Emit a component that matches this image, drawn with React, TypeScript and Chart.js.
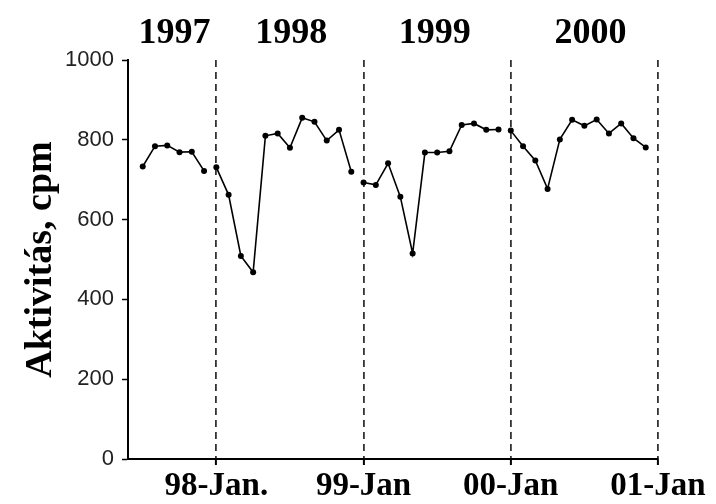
import React, { useEffect, useRef } from "react";
import { Chart, registerables } from "chart.js";

Chart.register(...registerables);

// Monthly activity values (cpm); x = months since Jan 1998
const seg1997Start = -6; // Jul 1997
const seg1997 = [733, 784, 786, 769, 770, 722];
const seg1998Start = 0;
const seg1998 = [731, 662, 509, 468, 810, 816, 780, 855, 845, 798, 825, 720];
const seg1999Start = 12;
const seg1999 = [693, 687, 741, 657, 515, 768, 768, 771, 837, 841, 825, 826];
const seg2000Start = 24;
const seg2000 = [823, 784, 748, 677, 801, 850, 835, 851, 816, 841, 804, 781];

const xTickValues = [0, 12, 24, 36];
const xTickLabels = ["98-Jan.", "99-Jan", "00-Jan", "01-Jan"];
const yTickValues = [0, 200, 400, 600, 800, 1000];

const yearLabels = ["1997", "1998", "1999", "2000"];
const yearLabelAt = [-3.4, 6.1, 17.8, 30.5];

const toPoints = (start: number, vals: number[]) =>
  vals.map((v, i) => ({ x: start + i, y: v }));

const yearPlugin = {
  id: "yearLabels",
  afterDraw(chart: any) {
    const { ctx, scales } = chart;
    const xs = scales.x;
    ctx.save();
    ctx.font = 'bold 36px "Liberation Serif"';
    ctx.fillStyle = "#000";
    ctx.textAlign = "center";
    ctx.textBaseline = "alphabetic";
    yearLabels.forEach((t, i) => {
      ctx.fillText(t, xs.getPixelForValue(yearLabelAt[i]), 43);
    });
    ctx.restore();
  },
};

export default function App() {
  const ref = useRef<HTMLCanvasElement | null>(null);
  useEffect(() => {
    if (!ref.current) return;
    const ds = (data: { x: number; y: number }[]) => ({
      data,
      borderColor: "#000",
      backgroundColor: "#000",
      borderWidth: 1.6,
      pointRadius: 3,
      pointBackgroundColor: "#000",
      pointBorderWidth: 0,
      tension: 0,
    });
    const chart = new Chart(ref.current, {
      type: "line",
      data: {
        datasets: [
          ds(toPoints(seg1997Start, seg1997)),
          ds(toPoints(seg1998Start, seg1998)),
          ds(toPoints(seg1999Start, seg1999)),
          ds(toPoints(seg2000Start, seg2000)),
        ],
      },
      options: {
        animation: false,
        responsive: true,
        maintainAspectRatio: false,
        layout: { padding: { top: 60, right: 58, left: 0, bottom: 0 } },
        plugins: {
          legend: { display: false },
          tooltip: { enabled: false },
        },
        scales: {
          x: {
            type: "linear",
            min: -7.2,
            max: 36,
            afterBuildTicks: (s: any) => {
              s.ticks = xTickValues.map((v) => ({ value: v }));
            },
            afterFit: (s: any) => {
              s.height = 45;
            },
            ticks: {
              autoSkip: false,
              maxRotation: 0,
              padding: 2,
              color: "#000",
              font: { family: "Liberation Serif", size: 33, weight: "bold" },
              callback: (v: any) => {
                const i = xTickValues.indexOf(Number(v));
                return i >= 0 ? xTickLabels[i] : "";
              },
            },
            grid: {
              display: true,
              drawOnChartArea: true,
              color: "#333",
              lineWidth: 1.8,
              tickLength: 6,
              tickColor: "#000",
              tickWidth: 2,
              tickBorderDash: [],
            },
            border: { display: true, color: "#000", width: 2, dash: [7, 5] },
          },
          y: {
            type: "linear",
            min: 0,
            max: 1000,
            afterBuildTicks: (s: any) => {
              s.ticks = yTickValues.map((v) => ({ value: v }));
            },
            afterFit: (s: any) => {
              s.width = 128;
            },
            ticks: {
              padding: 8,
              color: "#222",
              font: { family: "Liberation Sans", size: 22 },
              callback: (v: any) => String(v),
            },
            grid: {
              display: true,
              drawOnChartArea: false,
              tickLength: 6,
              tickColor: "#000",
              tickWidth: 1.5,
            },
            border: { display: true, color: "#000", width: 2 },
            title: {
              display: true,
              text: "Aktivitás, cpm",
              color: "#000",
              padding: { top: 18, bottom: 0 },
              font: { family: "Liberation Serif", size: 38, weight: "bold" },
            },
          },
        },
      },
      plugins: [yearPlugin],
    });
    return () => chart.destroy();
  }, []);
  return (
    <div style={{ position: "fixed", left: 0, top: 0, width: 716, height: 504, background: "#fff" }}>
      <canvas ref={ref} />
    </div>
  );
}
